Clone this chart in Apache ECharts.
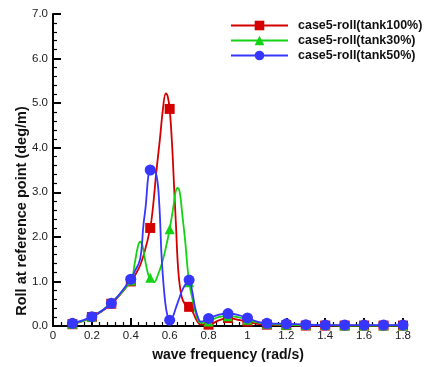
<!DOCTYPE html>
<html>
<head>
<meta charset="utf-8">
<script src="https://cdn.jsdelivr.net/npm/echarts@6/dist/echarts.min.js"></script>
<style>
  html, body { margin: 0; padding: 0; background: #fff; }
  #chart { width: 425px; height: 367px; }
</style>
</head>
<body>
<div id="chart"></div>
<script>
// Wave frequencies (rad/s) at which the roll response was computed
const freqs = [0.1, 0.2, 0.3, 0.4, 0.5, 0.6, 0.7, 0.8, 0.9, 1.0, 1.1, 1.2, 1.3, 1.4, 1.5, 1.6, 1.7, 1.8];

// Roll at reference point (deg/m) for each tank filling level
const tank100 = [0.04, 0.2, 0.5, 1.0, 2.2, 4.87, 0.43, 0.03, 0.18, 0.1, 0.03, 0.02, 0.01, 0.01, 0.01, 0.01, 0.01, 0.01];
const tank30  = [0.05, 0.2, 0.52, 1.02, 1.08, 2.17, 0.98, 0.1, 0.22, 0.14, 0.05, 0.03, 0.02, 0.02, 0.01, 0.01, 0.01, 0.01];
const tank50  = [0.06, 0.21, 0.51, 1.05, 3.5, 0.13, 1.03, 0.17, 0.28, 0.18, 0.06, 0.05, 0.03, 0.02, 0.02, 0.02, 0.02, 0.02];

// Points along the fitted response curves between the computed frequencies
const tank100Curve = [[0.44, 1.28], [0.47, 1.65], [0.515, 2.7], [0.53, 3.4], [0.55, 4.2], [0.565, 4.85], [0.58, 5.22],
  [0.59, 5.15], [0.612, 4.1], [0.622, 3.2], [0.632, 2.3], [0.645, 1.2], [0.662, 0.65], [0.68, 0.48],
  [0.72, 0.3], [0.74, 0.12], [0.76, 0.03], [0.85, 0.12], [0.95, 0.14], [1.05, 0.05]];
const tank30Curve = [[0.42, 1.4], [0.435, 1.75], [0.448, 1.89], [0.46, 1.8], [0.475, 1.45], [0.49, 1.15], [0.52, 0.98],
  [0.54, 1.15], [0.56, 1.4], [0.58, 1.75], [0.62, 2.7], [0.63, 3.0], [0.641, 3.1], [0.652, 3.0], [0.665, 2.5],
  [0.68, 1.9], [0.69, 1.4], [0.72, 0.55], [0.74, 0.2], [0.76, 0.07], [0.85, 0.2], [0.95, 0.2], [1.05, 0.08]];
const tank50Curve = [[0.42, 1.22], [0.448, 1.5], [0.465, 2.26], [0.477, 2.7], [0.49, 3.36], [0.51, 3.58], [0.533, 3.36],
  [0.547, 2.7], [0.559, 1.52], [0.576, 0.57], [0.59, 0.2], [0.615, 0.2], [0.63, 0.38], [0.645, 0.57], [0.67, 0.85],
  [0.715, 0.8], [0.73, 0.43], [0.745, 0.2], [0.76, 0.1], [0.85, 0.25], [0.95, 0.25], [1.05, 0.1]];

const names = ['case5-roll(tank100%)', 'case5-roll(tank30%)', 'case5-roll(tank50%)'];
const colors = ['#d40000', '#14d214', '#3636ff'];
const symbols = ['rect', 'triangle', 'circle'];
const symbolSizes = [10, 10, 11];

// Merge computed points (with markers) and curve points (no markers), ordered by frequency
function buildData(values, curve) {
  const pts = values.map((v, i) => ({ value: [freqs[i], v] }));
  curve.forEach(p => pts.push({ value: p, symbol: 'none' }));
  pts.sort((a, b) => a.value[0] - b.value[0]);
  return pts;
}

const seriesValues = [[tank100, tank100Curve], [tank30, tank30Curve], [tank50, tank50Curve]];

const FONT = '"Liberation Sans", Arial, sans-serif';

const chart = echarts.init(document.getElementById('chart'), null, { renderer: 'canvas' });
chart.setOption({
  animation: false,
  backgroundColor: '#fff',
  grid: { left: 53, right: 22, top: 14, bottom: 34 },
  legend: {
    orient: 'vertical',
    left: 230,
    top: 19,
    padding: 0,
    itemWidth: 57,
    itemHeight: 12,
    itemGap: 2,
    textStyle: { fontFamily: FONT, fontWeight: 'bold', fontSize: 12.5, color: '#111', padding: [0, 0, 0, 5] },
    data: names
  },
  xAxis: {
    type: 'value',
    min: 0,
    max: 1.8,
    interval: 0.2,
    name: 'wave frequency (rad/s)',
    nameLocation: 'middle',
    nameGap: 22,
    nameTextStyle: { fontFamily: FONT, fontWeight: 'bold', fontSize: 14, color: '#111' },
    axisLine: { lineStyle: { color: '#000', width: 2 } },
    axisTick: { inside: true, length: 8, lineStyle: { color: '#000', width: 2 } },
    minorTick: { show: true, splitNumber: 5, length: 4, lineStyle: { color: '#000', width: 1.2 } },
    axisLabel: { margin: 4, fontFamily: FONT, fontSize: 11.5, color: '#222' },
    splitLine: { show: false }
  },
  yAxis: {
    type: 'value',
    min: 0,
    max: 7,
    interval: 1,
    axisLine: { show: true, lineStyle: { color: '#000', width: 2 } },
    axisTick: { show: true, inside: true, length: 8, lineStyle: { color: '#000', width: 2 } },
    minorTick: { show: true, splitNumber: 5, length: 4, lineStyle: { color: '#000', width: 1.2 } },
    axisLabel: { margin: 5, fontFamily: FONT, fontSize: 11.5, color: '#222', formatter: v => v.toFixed(1) },
    splitLine: { show: false }
  },
  graphic: [{
    type: 'text',
    x: 22,
    y: 211,
    rotation: Math.PI / 2,
    style: {
      text: 'Roll at reference point (deg/m)',
      font: 'bold 14.5px ' + FONT,
      fill: '#111',
      align: 'center',
      verticalAlign: 'middle'
    }
  }],
  series: seriesValues.map((sv, k) => ({
    name: names[k],
    type: 'line',
    smooth: 0.4,
    showSymbol: true,
    showAllSymbol: true,
    symbol: symbols[k],
    symbolSize: symbolSizes[k],
    z: 2 + k,
    lineStyle: { color: colors[k], width: 1.8 },
    itemStyle: { color: colors[k] },
    emphasis: { disabled: true },
    data: buildData(sv[0], sv[1])
  }))
});
</script>
</body>
</html>
